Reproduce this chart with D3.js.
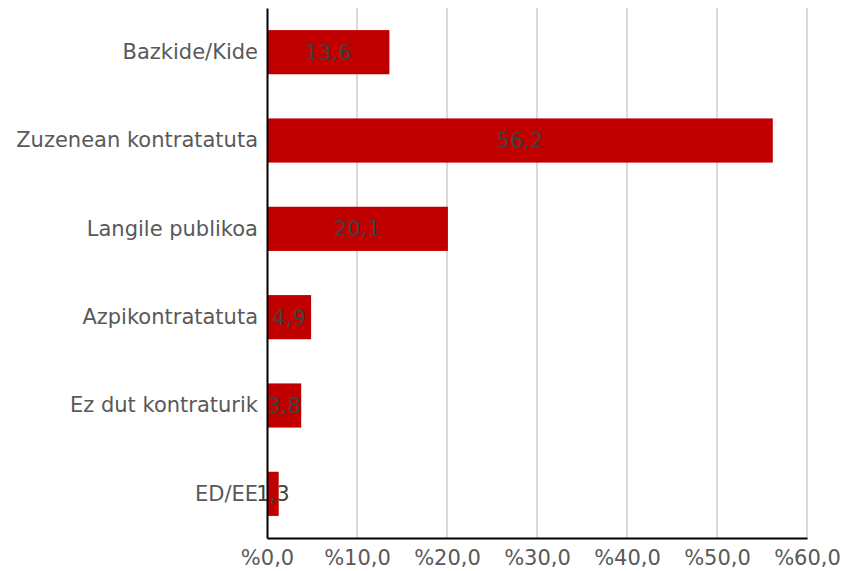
<!DOCTYPE html>
<html><head><meta charset="utf-8">
<script src="https://cdn.jsdelivr.net/npm/d3@7"></script>
<style>body{margin:0;background:#fff}svg{display:block}text{font-family:"DejaVu Sans",sans-serif}</style>
</head><body><svg id="c" width="844" height="571"></svg>
<script>
const categories = ["Bazkide/Kide","Zuzenean kontratatuta","Langile publikoa","Azpikontratatuta","Ez dut kontraturik","ED/EE"];
const values = [13.6,56.2,20.1,4.9,3.8,1.3];
const ticks = [0,10,20,30,40,50,60];
const fmt = v => "%" + v.toFixed(1).replace(".", ",");
const lab = v => v.toFixed(1).replace(".", ",");

const svg = d3.select("#c");
const mLeft = 267, mRight = 807, mTop = 8, mBottom = 538;
const fs = 21;
const x = d3.scaleLinear().domain([0,60]).range([mLeft,mRight]);
const y = d3.scaleBand().domain(categories).range([mTop,mBottom]).paddingInner(0.5).paddingOuter(0.25);

svg.append("g").selectAll("line").data(ticks.slice(1)).join("line")
  .attr("x1",d=>x(d)).attr("x2",d=>x(d)).attr("y1",mTop).attr("y2",mBottom)
  .attr("stroke","#d9d9d9").attr("stroke-width",2);

svg.append("g").selectAll("rect").data(values).join("rect")
  .attr("x",x(0)).attr("y",(d,i)=>y(categories[i]))
  .attr("width",d=>x(d)-x(0)).attr("height",y.bandwidth())
  .attr("fill","#c00000");

svg.append("g").selectAll("text").data(values).join("text")
  .attr("x",d=>(x(0)+x(d))/2).attr("y",(d,i)=>y(categories[i])+y.bandwidth()/2)
  .attr("dy","0.35em").attr("text-anchor","middle")
  .attr("font-size",fs).attr("fill","#404040").text(lab);

const xa = svg.append("g").attr("transform",`translate(0,${mBottom})`)
  .call(d3.axisBottom(x).tickValues(ticks).tickFormat(fmt).tickSize(0).tickPadding(12));
xa.select(".domain").attr("stroke","#000").attr("stroke-width",2);
xa.selectAll("text").attr("font-size",fs).attr("fill","#595959");

const ya = svg.append("g").attr("transform",`translate(${mLeft},0)`)
  .call(d3.axisLeft(y).tickSize(0).tickPadding(9));
ya.select(".domain").attr("stroke","#000").attr("stroke-width",2);
ya.selectAll("text").attr("font-size",fs).attr("fill","#595959");
</script></body></html>
